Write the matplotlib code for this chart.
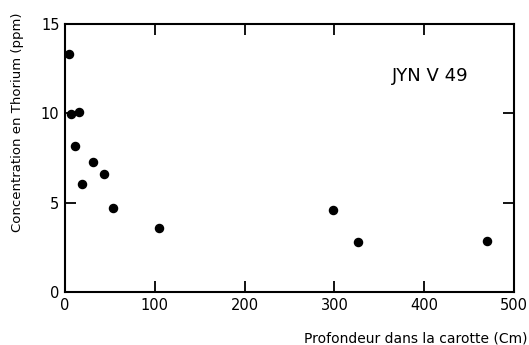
import matplotlib
matplotlib.use("Agg")
import matplotlib.pyplot as plt

# Thorium concentration vs depth, core JYN V 49
depth_cm = [4.5, 6.3, 10.8, 15.6, 19.0, 31.6, 43.5, 53.0, 104.4, 298.0, 326.0, 470.0]
thorium_ppm = [13.3, 9.95, 8.2, 10.1, 6.05, 7.3, 6.6, 4.68, 3.6, 4.6, 2.8, 2.83]

x_ticks = [0, 100, 200, 300, 400, 500]
y_ticks = [0, 5, 10, 15]

plt.rcParams['font.family'] = ['DejaVu Sans']

fig = plt.figure(figsize=(5.29, 3.45), dpi=100)
ax = fig.add_axes([0.1229, 0.1536, 0.8488, 0.7768])

ax.scatter(depth_cm, thorium_ppm, s=34, color='black', zorder=3)

ax.set_xlim(0, 500)
ax.set_ylim(0, 15)
ax.set_xticks(x_ticks)
ax.set_yticks(y_ticks)
ax.tick_params(direction='in', length=8, width=1.3, top=True, right=True,
               labelsize=10.5, pad=4)
for side in ax.spines.values():
    side.set_linewidth(1.5)

# axis titles placed as in the original figure
ax.set_ylabel('Concentration en Thorium (ppm)', fontsize=9.5, va='center')
ax.yaxis.set_label_coords(-0.105, 0.634)
ax.set_xlabel('Profondeur dans la carotte (Cm)', fontsize=10, va='center', ha='right')
ax.xaxis.set_label_coords(1.029, -0.172)

ax.text(407, 12.1, 'JYN V 49', fontsize=13, ha='center', va='center')

fig.savefig('out.png', dpi=100)
